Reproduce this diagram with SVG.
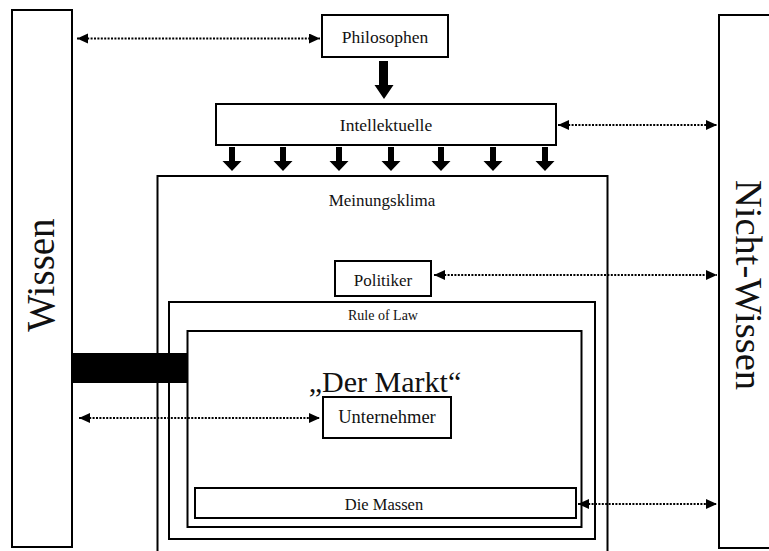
<svg xmlns="http://www.w3.org/2000/svg" width="769" height="551" viewBox="0 0 769 551">
<style>
.box{fill:#fff;stroke:#000;stroke-width:2}
.t{font-family:"Liberation Serif","Times New Roman",serif;fill:#111;text-anchor:middle}
.dot{fill:none;stroke:#000;stroke-width:2.2;stroke-dasharray:2 1.4;marker-start:url(#ah);marker-end:url(#ah)}
.blk{fill:#000}
</style>
<defs>
<marker id="ah" markerUnits="userSpaceOnUse" markerWidth="12" markerHeight="11" refX="11" refY="5" orient="auto-start-reverse">
<path d="M0,0 L11,5 L0,10 z" fill="#000"/>
</marker>
</defs>
<rect width="769" height="551" fill="#fff"/>
<g id="wissen">
<rect class="box" x="12" y="10" width="60" height="537"/>
<text class="t" font-size="39" transform="translate(54,275) rotate(-90)">Wissen</text>
</g>
<g id="nicht-wissen">
<rect class="box" x="719" y="15" width="60" height="533" stroke-width="2.5"/>
<text class="t" font-size="38.5" transform="translate(736,285) rotate(90)">Nicht-Wissen</text>
</g>
<g id="meinungsklima">
<rect class="box" x="157.5" y="176" width="450" height="376" stroke-width="1.5"/>
<text class="t" font-size="17" x="382" y="206">Meinungsklima</text>
</g>
<g id="rule-of-law">
<rect class="box" x="169" y="302" width="426" height="237"/>
<text class="t" font-size="14" x="383" y="320">Rule of Law</text>
</g>
<g id="markt">
<rect class="box" x="187.5" y="331" width="394" height="196" stroke-width="3.5"/>
<text class="t" font-size="30" x="385" y="392">„Der Markt“</text>
</g>
<g id="philosophen">
<rect class="box" x="322" y="15" width="126" height="42"/>
<text class="t" font-size="17.5" x="385" y="43">Philosophen</text>
</g>
<g id="intellektuelle">
<rect class="box" x="216" y="104" width="340" height="41"/>
<text class="t" font-size="17.5" x="386" y="131">Intellektuelle</text>
</g>
<g id="politiker">
<rect class="box" x="335" y="261" width="96" height="35"/>
<text class="t" font-size="17" x="383" y="286">Politiker</text>
</g>
<g id="unternehmer">
<rect class="box" x="323" y="397" width="128" height="41" stroke-width="1.5"/>
<text class="t" font-size="18.5" x="387" y="423">Unternehmer</text>
</g>
<g id="massen">
<rect class="box" x="195" y="488" width="381" height="30"/>
<text class="t" font-size="16.5" x="384" y="510">Die Massen</text>
</g>
<g id="connectors">
<rect class="blk" x="73" y="353" width="115" height="30"/>
<path class="blk" d="M379,61 H388 V85 H393.5 L384,99 L374.5,85 H379 Z"/>
<path class="blk" d="M229,147 h6 v14 h6.5 l-9.5,10 l-9.5,-10 h6.5 z"/>
<path class="blk" d="M280,147 h6 v14 h6.5 l-9.5,10 l-9.5,-10 h6.5 z"/>
<path class="blk" d="M336,147 h6 v14 h6.5 l-9.5,10 l-9.5,-10 h6.5 z"/>
<path class="blk" d="M388,147 h6 v14 h6.5 l-9.5,10 l-9.5,-10 h6.5 z"/>
<path class="blk" d="M438,147 h6 v14 h6.5 l-9.5,10 l-9.5,-10 h6.5 z"/>
<path class="blk" d="M490,147 h6 v14 h6.5 l-9.5,10 l-9.5,-10 h6.5 z"/>
<path class="blk" d="M542,147 h6 v14 h6.5 l-9.5,10 l-9.5,-10 h6.5 z"/>
<line class="dot" x1="77" y1="38.5" x2="320" y2="38.5"/>
<line class="dot" x1="558" y1="125" x2="717" y2="125"/>
<line class="dot" x1="434" y1="275" x2="717" y2="275"/>
<line class="dot" x1="79" y1="418" x2="320" y2="418"/>
<line class="dot" x1="578" y1="504" x2="717" y2="504"/>
</g>
</svg>
